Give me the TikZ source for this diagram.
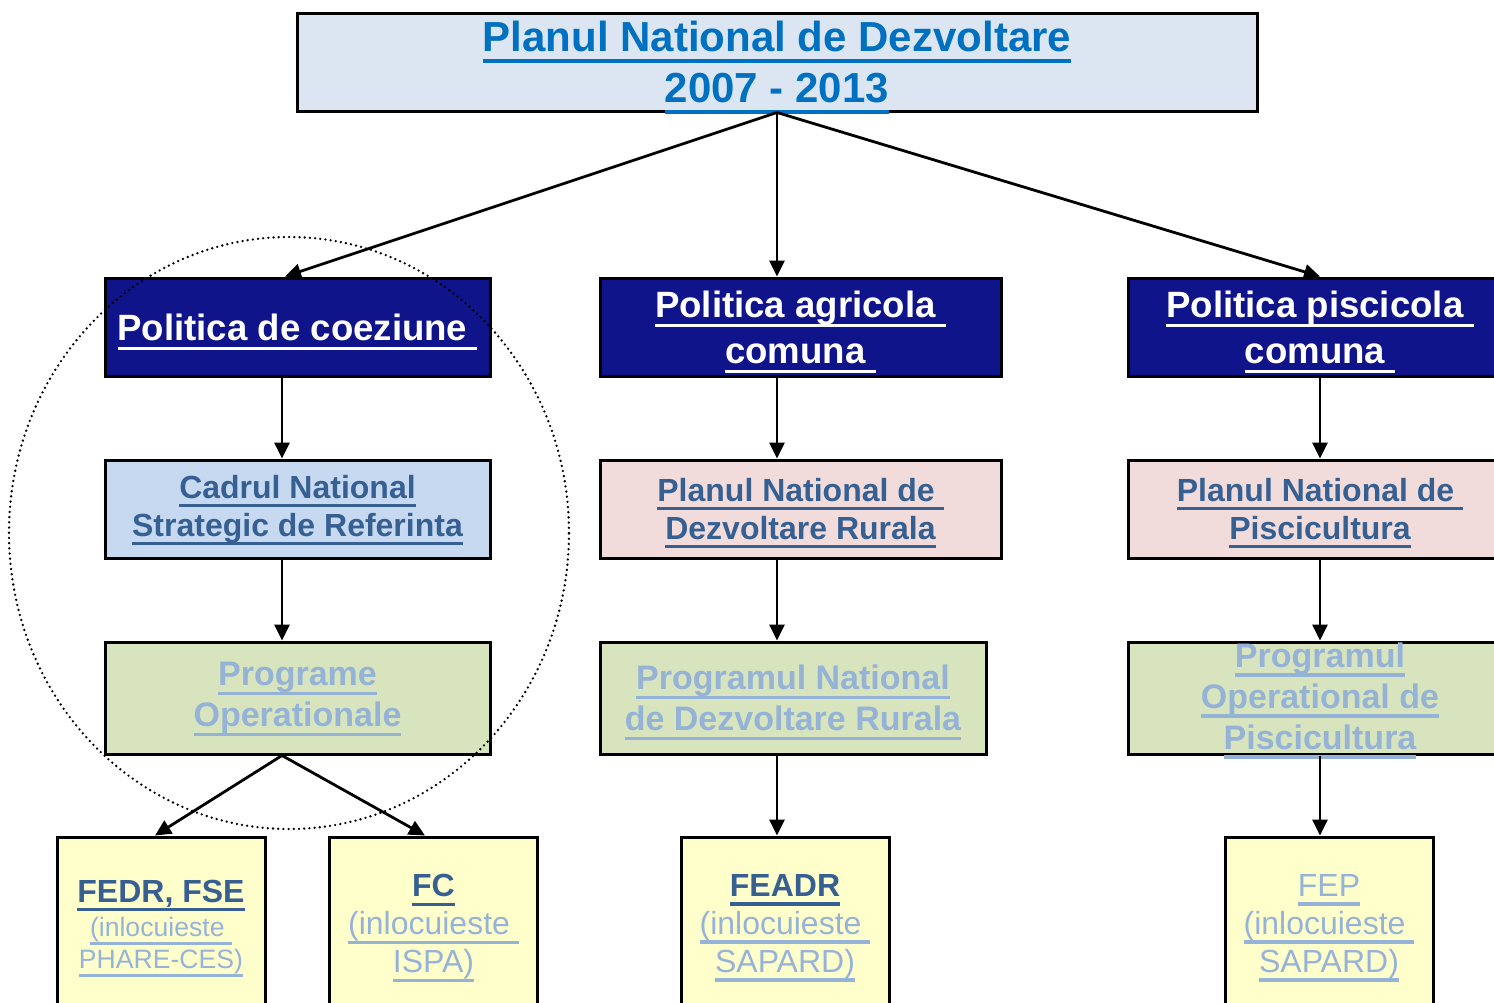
\documentclass[tikz,border=0pt]{standalone}
\usepackage{fontspec}
\setmainfont{Liberation Sans}
\usetikzlibrary{arrows.meta,positioning,shapes}

\definecolor{navyfill}{HTML}{10148A}
\definecolor{titlefill}{HTML}{DCE6F2}
\definecolor{titletext}{HTML}{0070C0}
\definecolor{bluefill}{HTML}{C6D9F1}
\definecolor{pinkfill}{HTML}{F2DCDB}
\definecolor{greenfill}{HTML}{D7E4BD}
\definecolor{yellowfill}{HTML}{FFFFCC}
\definecolor{darktext}{HTML}{366092}
\definecolor{lighttext}{HTML}{95B3D7}

% underlined text, line in the text colour
\newcommand{\ulbox}[1]{\setbox0=\hbox{#1}\rlap{\copy0}\smash{\rule[-0.28em]{\wd0}{0.1em}}}

\begin{document}
\begin{tikzpicture}[
  x=0.5pt,y=-0.5pt,
  every node/.style={align=center},
  cell/.style={draw,line width=1.5pt,inner sep=0pt},
  headbox/.style={cell,fill=titlefill,text=titletext,font=\fontsize{21}{25.5}\selectfont\bfseries,minimum width=480pt,minimum height=49pt},
  polbox/.style={cell,fill=navyfill,text=white,font=\fontsize{18.3}{23}\selectfont\bfseries,minimum height=49pt},
  planbox/.style={cell,text=darktext,font=\fontsize{16}{19}\selectfont\bfseries,minimum height=49pt},
  progbox/.style={cell,fill=greenfill,text=lighttext,font=\fontsize{17}{20.5}\selectfont\bfseries,minimum height=56pt},
  fundbox/.style={cell,fill=yellowfill,text=lighttext,font=\fontsize{16}{19}\selectfont,minimum width=104pt,minimum height=90pt},
  conn/.style={-{Triangle[length=8pt,width=7.5pt]},line width=1.4pt},
  circ/.style={line width=1.3pt,line cap=round,dash pattern=on 0pt off 2.6pt}]

  \useasboundingbox (0,0) rectangle (1494,1002);
  \clip (0,0) rectangle (1494,1002);

  % Kopf
  \node[headbox] (pnd) at (777,62) {\ulbox{Planul National de Dezvoltare}\\\ulbox{2007 - 2013}};

  % Politici
  \node[polbox,minimum width=192.5pt] (coez) at (297.5,327) {\ulbox{Politica de coeziune\ }};
  \node[polbox,minimum width=200.5pt] (agri) at (800.5,327) {\ulbox{Politica agricola\ }\\\ulbox{comuna\ }};
  \node[polbox,minimum width=192pt] (pisc) at (1320,327) {\ulbox{Politica piscicola\ }\\\ulbox{comuna\ }};

  % Planuri
  \node[planbox,fill=bluefill,minimum width=192.5pt] (cnsr) at (297.5,509) {\ulbox{Cadrul National}\\\ulbox{Strategic de Referinta}};
  \node[planbox,fill=pinkfill,minimum width=200.5pt] (pndr) at (800.5,509) {\ulbox{Planul National de\ }\\\ulbox{Dezvoltare Rurala}};
  \node[planbox,fill=pinkfill,minimum width=192pt] (pnp) at (1320,509) {\ulbox{Planul National de\ }\\\ulbox{Piscicultura}};

  % Programe
  \node[progbox,minimum width=192.5pt] (po) at (297.5,698) {\ulbox{Programe}\\\ulbox{Operationale}};
  \node[progbox,minimum width=193pt] (pnadr) at (793,698) {\ulbox{Programul National}\\\ulbox{de Dezvoltare Rurala}};
  \node[progbox,minimum width=192pt,minimum height=0pt,text height=53.5pt,text depth=2.5pt] (pop) at (1320,698) {\ulbox{Programul}\\\ulbox{Operational de}\\\ulbox{Piscicultura}};

  % Fonduri
  \node[fundbox] (fedr) at (161,927) {\textcolor{darktext}{\ulbox{\bfseries FEDR, FSE}}\\[-2pt]
      \ulbox{\fontsize{13.3}{15.5}\selectfont(inlocuieste\ }\\[-3pt]\ulbox{\fontsize{13.3}{15.5}\selectfont PHARE-CES)}};
  \node[fundbox] (fc) at (433.5,927) {\textcolor{darktext}{\ulbox{\bfseries FC}}\\\ulbox{(inlocuieste\ }\\\ulbox{ISPA)}};
  \node[fundbox] (feadr) at (785,927) {\textcolor{darktext}{\ulbox{\bfseries FEADR}}\\\ulbox{(inlocuieste\ }\\\ulbox{SAPARD)}};
  \node[fundbox] (fep) at (1329,927) {\ulbox{FEP}\\\ulbox{(inlocuieste\ }\\\ulbox{SAPARD)}};

  % Pfeile
  \draw[conn] (pnd.south) -- ([xshift=-6.25pt]coez.north);
  \draw[conn] (pnd.south) -- ([xshift=-11.75pt]agri.north);
  \draw[conn] (pnd.south) -- (pisc.north);

  \draw[conn] ([xshift=-7.75pt]coez.south) -- ([xshift=-7.75pt]cnsr.north);
  \draw[conn] ([xshift=-7.75pt]cnsr.south) -- ([xshift=-7.75pt]po.north);
  \draw[conn] ([xshift=-7.75pt]po.south) -- ([xshift=-3pt]fedr.north);
  \draw[conn] ([xshift=-7.75pt]po.south) -- ([xshift=-4.25pt]fc.north);

  \draw[conn] ([xshift=-11.75pt]agri.south) -- ([xshift=-11.75pt]pndr.north);
  \draw[conn] ([xshift=-11.75pt]pndr.south) -- ([xshift=-8pt]pnadr.north);
  \draw[conn] ([xshift=-8pt]pnadr.south) -- ([xshift=-4pt]feadr.north);

  \draw[conn] (pisc.south) -- (pnp.north);
  \draw[conn] (pnp.south) -- (pop.north);
  \draw[conn] (pop.south) -- ([xshift=-4.5pt]fep.north);

  % Kreis um die Kohaesionspolitik
  \draw[circ] (289,533) ellipse [x radius=140pt, y radius=148pt];

\end{tikzpicture}
\end{document}
